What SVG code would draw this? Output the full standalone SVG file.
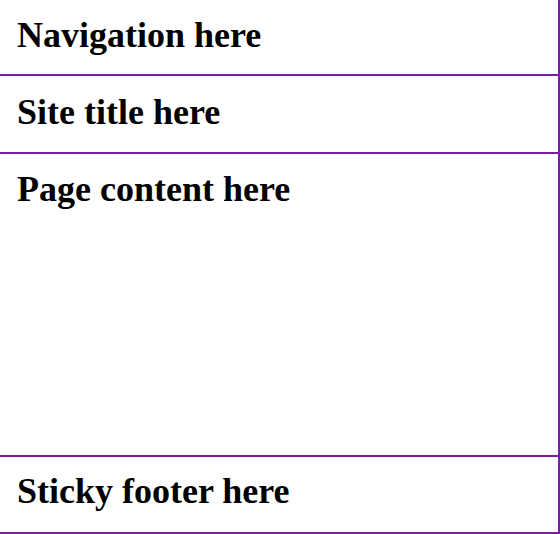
<svg xmlns="http://www.w3.org/2000/svg" width="560" height="534" viewBox="0 0 560 534">
<style>
.t{font-family:"Liberation Serif","Times New Roman",serif;font-weight:bold;font-size:36px;fill:#000}
.b{stroke:#7b1fa2;stroke-width:2;fill:none}
</style>
<rect width="560" height="534" fill="#fff"/>
<g id="navigation"><text class="t" x="17" y="47">Navigation here</text></g>
<g id="site-title"><text class="t" x="17" y="124">Site title here</text></g>
<g id="page-content"><text class="t" x="17" y="201">Page content here</text></g>
<g id="footer"><text class="t" x="17" y="503">Sticky footer here</text></g>
<g id="connectors">
<line class="b" x1="0" y1="75" x2="559" y2="75"/>
<line class="b" x1="0" y1="153" x2="559" y2="153"/>
<line class="b" x1="0" y1="456" x2="559" y2="456"/>
<line class="b" x1="0" y1="533" x2="559" y2="533"/>
<line class="b" x1="559" y1="0" x2="559" y2="534"/>
</g>
</svg>
